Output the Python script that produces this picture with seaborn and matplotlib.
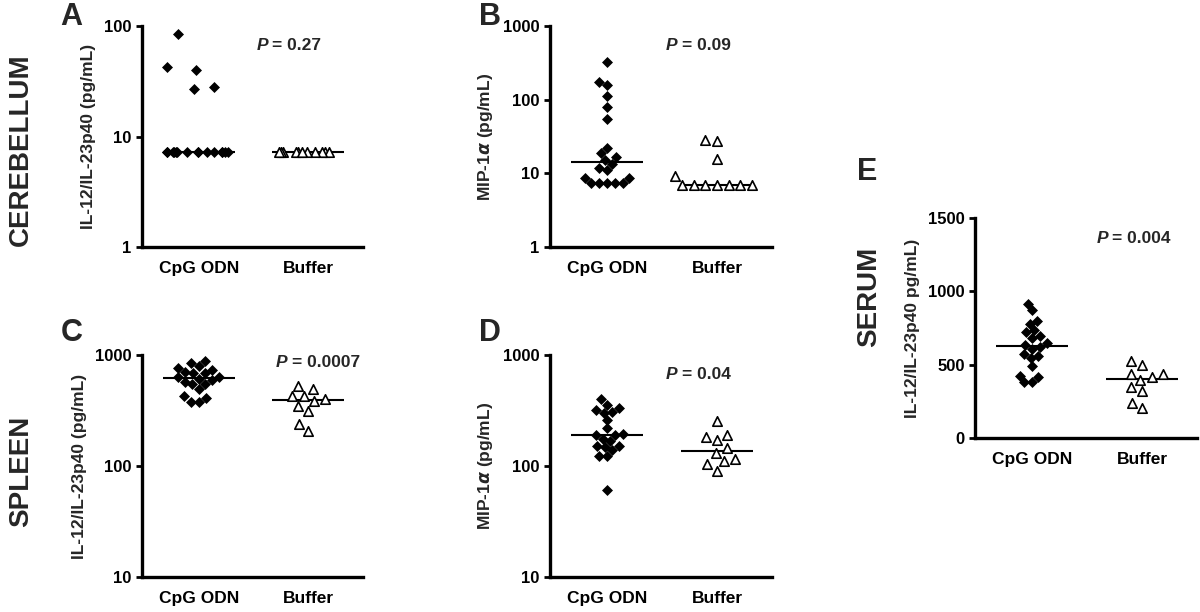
import numpy as np
import pandas as pd
import seaborn as sns
import matplotlib.pyplot as plt
from matplotlib.ticker import NullLocator

groups = ['CpG ODN', 'Buffer']

# A - cerebellum IL-12/IL-23p40 (pg/mL)
a_cpg = [84, 43, 40, 28, 27] + [7.2] * 15
a_buf = [7.2] * 11
# B - cerebellum MIP-1a (pg/mL)
b_cpg = [323, 173, 160, 113, 80, 55, 22, 18.8, 16.8, 15.3, 13.5, 11.9, 11.1,
         8.7, 8.6, 7.3, 7.3, 7.3, 7.3, 7.3]
b_buf = [28.8, 27.3, 15.5, 9.2, 7.0, 7.0, 7.0, 7.0, 7.0, 7.0, 7.0]
# C - spleen IL-12/IL-23p40 (pg/mL)
c_cpg = [889, 853, 796, 758, 733, 699, 684, 684, 613, 630, 638, 596, 576,
         545, 545, 492, 423, 411, 376, 381]
c_buf = [527, 492, 403, 429, 429, 386, 348, 316, 238, 205]
# D - spleen MIP-1a (pg/mL)
d_cpg = [400, 356, 321, 332, 303, 308, 261, 219, 194, 191, 191, 167, 176,
         148, 150, 150, 138, 122, 122, 61]
d_buf = [252, 182, 191, 170, 145, 131, 116, 110, 104, 91]
# E - serum IL-12/IL-23p40
e_cpg = [914, 870, 800, 777, 734, 720, 682, 693, 648, 632, 607, 620, 573,
         545, 561, 493, 416, 425, 380, 380]
e_buf = [527, 495, 436, 436, 414, 393, 345, 318, 239, 205]

p_values = ['0.27', '0.09', '0.0007', '0.04', '0.004']

sns.set_style('ticks')
plt.rcParams['font.family'] = ['Liberation Sans', 'DejaVu Sans']
plt.rcParams['font.weight'] = 'bold'
plt.rcParams['axes.labelweight'] = 'bold'
np.random.seed(11)

fig = plt.figure(figsize=(12, 6.12), dpi=100)


def panel(rect, cpg, buf, ylabel, ylim, yticks, log, pval, ppos, jitter=False):
    ax = fig.add_axes(rect)
    df = pd.DataFrame({'group': ['CpG ODN'] * len(cpg) + ['Buffer'] * len(buf),
                       'value': cpg + buf})
    if log:
        ax.set_yscale('log')
    ax.set_ylim(ylim)
    ax.set_xlim(-0.52, 1.5)
    # median line only
    sns.boxplot(data=df, x='group', y='value', order=groups, ax=ax, width=0.66,
                showbox=False, showcaps=False, showfliers=False,
                whiskerprops={'visible': False}, linecolor='black',
                medianprops={'color': 'black', 'linewidth': 1.5})
    kind = sns.stripplot if jitter else sns.swarmplot
    extra = {'jitter': 0.3} if jitter else {}
    kind(data=df[df.group == 'CpG ODN'], x='group', y='value', order=groups,
         ax=ax, marker='D', color='black', size=5.6, linewidth=0, **extra)
    kind(data=df[df.group == 'Buffer'], x='group', y='value', order=groups,
         ax=ax, marker='^', color='white', edgecolor='black', linewidth=1.2,
         size=6.8, **extra)
    ax.set_ylim(ylim)
    ax.set_xlim(-0.52, 1.5)
    ax.set_yticks(yticks)
    ax.set_yticklabels([str(t) for t in yticks])
    ax.yaxis.set_minor_locator(NullLocator())
    ax.set_xlabel('')
    ax.set_ylabel(ylabel, fontsize=12.5, labelpad=6)
    sns.despine(ax=ax)
    for s in ['left', 'bottom']:
        ax.spines[s].set_linewidth(2.4)
        ax.spines[s].set_color('black')
    ax.tick_params(axis='y', length=4, width=2, labelsize=12, colors='black')
    ax.tick_params(axis='x', length=0, labelsize=12.5, pad=10, colors='black')
    ax.annotate('P', xy=ppos, xycoords='axes fraction', ha='right', va='center',
                fontsize=12.5, fontweight='bold', fontstyle='italic')
    ax.annotate('= ' + pval, xy=ppos, xycoords='axes fraction', xytext=(3, 0),
                textcoords='offset points', ha='left', va='center',
                fontsize=12.5, fontweight='bold')
    return ax


il = 'IL-12/IL-23p40 (pg/mL)'
mip = r'MIP-1$\alpha$ (pg/mL)'
panel([0.1183, 0.5964, 0.184, 0.361], a_cpg, a_buf, il, (1, 100), [1, 10, 100],
      True, p_values[0], (0.57, 0.914), jitter=True)
panel([0.4583, 0.5964, 0.185, 0.361], b_cpg, b_buf, mip, (1, 1000), [1, 10, 100, 1000],
      True, p_values[1], (0.575, 0.914))
panel([0.1183, 0.0572, 0.184, 0.3627], c_cpg, c_buf, il, (10, 1000), [10, 100, 1000],
      True, p_values[2], (0.66, 0.968))
panel([0.4583, 0.0572, 0.185, 0.3627], d_cpg, d_buf, mip, (10, 1000), [10, 100, 1000],
      True, p_values[3], (0.575, 0.91))
panel([0.8125, 0.2843, 0.185, 0.3595], e_cpg, e_buf, 'IL-12/IL-23p40 pg/mL)', (0, 1500),
      [0, 500, 1000, 1500], False, p_values[4], (0.6, 0.909))

for letter, x, y in [('A', 71, 17), ('B', 490, 17), ('C', 72, 333), ('D', 490, 333), ('E', 867, 172)]:
    fig.text(x / 1200, 1 - y / 612, letter, fontsize=22, fontweight='bold',
             ha='center', va='center')

fig.text(0.0175, 0.755, 'CEREBELLUM', rotation=90, fontsize=20, fontweight='bold',
         ha='center', va='center')
fig.text(0.0175, 0.23, 'SPLEEN', rotation=90, fontsize=20, fontweight='bold',
         ha='center', va='center')
fig.text(0.724, 0.515, 'SERUM', rotation=90, fontsize=20, fontweight='bold',
         ha='center', va='center')

fig.savefig('out.png', dpi=100, facecolor='white')
